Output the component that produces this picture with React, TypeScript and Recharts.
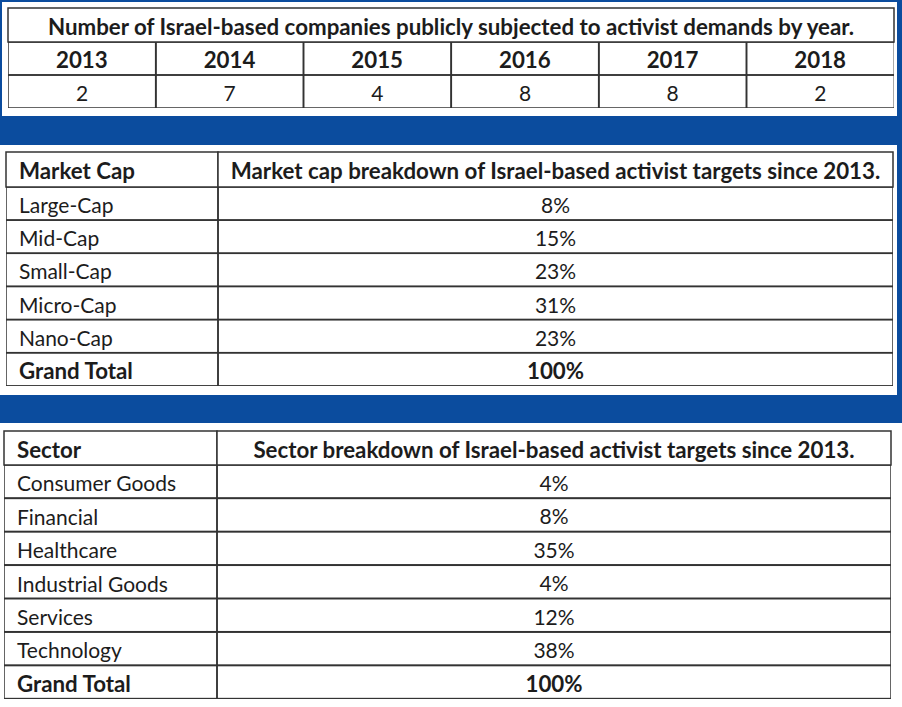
import React from "react";
import { Bar, BarChart, Rectangle, Surface, XAxis, YAxis } from "recharts";

const YEARS = ["2013", "2014", "2015", "2016", "2017", "2018"];
const COMPANY_COUNTS = [2, 7, 4, 8, 8, 2];

const CAP_LABELS = ["Large-Cap", "Mid-Cap", "Small-Cap", "Micro-Cap", "Nano-Cap", "Grand Total"];
const CAP_SHARES = [8, 15, 23, 31, 23, 100];

const SECTOR_LABELS = [
  "Consumer Goods",
  "Financial",
  "Healthcare",
  "Industrial Goods",
  "Services",
  "Technology",
  "Grand Total"
];
const SECTOR_SHARES = [4, 8, 35, 4, 12, 38, 100];

const TITLE_YEARS = "Number of Israel-based companies publicly subjected to activist demands by year.";
const TITLE_CAP = "Market cap breakdown of Israel-based activist targets since 2013.";
const TITLE_SECTOR = "Sector breakdown of Israel-based activist targets since 2013.";

const FONT = "Lato, 'Open Sans', sans-serif";
const INK = "#1c1c1c";
const LINE = "#333";
const BLUE = "#0b4c9e";
const FS = 21; // regular text
const FS_BOLD = 22.3; // bold text

const yearRows = YEARS.map((year, i) => ({ year, count: COMPANY_COUNTS[i] }));
const capRows = CAP_LABELS.map((label, i) => ({ label, share: CAP_SHARES[i] }));
const sectorRows = SECTOR_LABELS.map((label, i) => ({ label, share: SECTOR_SHARES[i] }));

const HEAD_H = 33;

function YearTick(props: any) {
  return (
    <text x={props.x} y={HEAD_H / 2 + 1} textAnchor="middle" dominantBaseline="central"
      fontFamily={FONT} fontSize={FS_BOLD} fontWeight={700} fill={INK}>
      {props.payload.value}
    </text>
  );
}

function YearCell(props: any) {
  const { x, width, payload } = props;
  return (
    <g>
      <rect x={x} y={0} width={width} height={HEAD_H} fill="none" stroke={LINE} strokeWidth={1.5} />
      <rect x={x} y={HEAD_H} width={width} height={HEAD_H} fill="none" stroke={LINE} strokeWidth={1.5} />
      <text x={x + width / 2} y={HEAD_H * 1.5 + 1} textAnchor="middle" dominantBaseline="central"
        fontFamily={FONT} fontSize={FS} fill={INK}>
        {payload.count}
      </text>
    </g>
  );
}

function makeLabelTick() {
  return function LabelTick(props: any) {
    const v = props.payload.value;
    const bold = v === "Grand Total";
    return (
      <text x={13} y={props.y + 1} textAnchor="start" dominantBaseline="central"
        fontFamily={FONT} fontSize={bold ? FS_BOLD : FS} fontWeight={bold ? 700 : 400} fill={INK}>
        {v}
      </text>
    );
  };
}

function makeShareCell(labelW: number, totalW: number) {
  return function ShareCell(props: any) {
    const { y, height, payload } = props;
    const bold = payload.label === "Grand Total";
    return (
      <g>
        <rect x={0} y={y} width={labelW} height={height} fill="none" stroke={LINE} strokeWidth={1.5} />
        <rect x={labelW} y={y} width={totalW - labelW} height={height} fill="none" stroke={LINE} strokeWidth={1.5} />
        <text x={(labelW + totalW) / 2} y={y + height / 2 + 1} textAnchor="middle" dominantBaseline="central"
          fontFamily={FONT} fontSize={bold ? FS_BOLD : FS} fontWeight={bold ? 700 : 400} fill={INK}>
          {payload.share}%
        </text>
      </g>
    );
  };
}

function ShareTable({ rows, left, top, width, height, labelW }: any) {
  return (
    <div style={{ position: "absolute", left, top }}>
      <BarChart layout="vertical" width={width} height={height} data={rows}
        margin={{ top: 0, right: 0, bottom: 0, left: 0 }} barCategoryGap={0} barGap={0}>
        <XAxis type="number" hide domain={[0, 100]} />
        <YAxis type="category" dataKey="label" width={labelW} interval={0}
          axisLine={false} tickLine={false} tick={makeLabelTick()} />
        <Bar dataKey="share" shape={makeShareCell(labelW, width)} isAnimationActive={false} />
      </BarChart>
    </div>
  );
}

function HeaderRow({ x, y, w, h, labelW, label, title }: any) {
  return (
    <g>
      <Rectangle x={x} y={y} width={labelW} height={h} fill="#fff" stroke={LINE} strokeWidth={1.5} />
      <Rectangle x={x + labelW} y={y} width={w - labelW} height={h} fill="#fff" stroke={LINE} strokeWidth={1.5} />
      <text x={x + 13} y={y + h / 2 + 1} dominantBaseline="central" fontFamily={FONT}
        fontSize={FS_BOLD} fontWeight={700} fill={INK}>{label}</text>
      <text x={x + labelW + (w - labelW) / 2} y={y + h / 2 + 1} textAnchor="middle" dominantBaseline="central"
        fontFamily={FONT} fontSize={FS_BOLD} fontWeight={700} fill={INK}>{title}</text>
    </g>
  );
}

export default function App() {
  return (
    <div style={{ position: "absolute", left: 0, top: 0, width: 902, height: 707, background: "#fff" }}>
      <div style={{ position: "absolute", left: 0, top: 0 }}>
        <Surface width={902} height={707} viewBox={{ x: 0, y: 0, width: 902, height: 707 }}>
          {/* blue frame pieces */}
          <Rectangle x={0} y={0} width={902} height={2} fill={BLUE} />
          <Rectangle x={0} y={0} width={2} height={116} fill={BLUE} />
          <Rectangle x={897} y={0} width={5} height={423} fill={BLUE} />
          <Rectangle x={0} y={116} width={902} height={29} fill={BLUE} />
          <Rectangle x={0} y={395} width={902} height={28} fill={BLUE} />

          {/* title row of the yearly table */}
          <Rectangle x={8} y={8} width={886} height={34} fill="#fff" stroke={LINE} strokeWidth={1.5} />
          <text x={451} y={26} textAnchor="middle" dominantBaseline="central" fontFamily={FONT}
            fontSize={FS_BOLD} fontWeight={700} fill={INK}>{TITLE_YEARS}</text>

          <HeaderRow x={6} y={152} w={887} h={35} labelW={212} label="Market Cap" title={TITLE_CAP} />
          <HeaderRow x={4} y={431} w={887} h={34} labelW={213} label="Sector" title={TITLE_SECTOR} />
        </Surface>
      </div>

      <div style={{ position: "absolute", left: 8, top: 42 }}>
        <BarChart width={886} height={HEAD_H * 2} data={yearRows}
          margin={{ top: 0, right: 0, bottom: 0, left: 0 }} barCategoryGap={0} barGap={0}>
          <XAxis dataKey="year" orientation="top" height={HEAD_H} interval={0}
            axisLine={false} tickLine={false} tick={<YearTick />} />
          <YAxis hide domain={[0, 10]} />
          <Bar dataKey="count" shape={<YearCell />} isAnimationActive={false} />
        </BarChart>
      </div>

      <ShareTable rows={capRows} left={6} top={187} width={887} height={199} labelW={212} />
      <ShareTable rows={sectorRows} left={4} top={465} width={887} height={234} labelW={213} />
    </div>
  );
}
